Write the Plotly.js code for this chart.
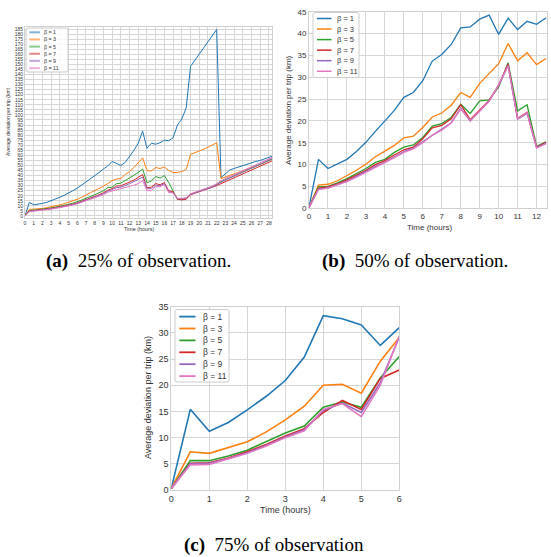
<!DOCTYPE html>
<html><head><meta charset="utf-8">
<script src="https://cdn.plot.ly/plotly-3.0.1.min.js"></script>
<style>html,body{margin:0;padding:0;background:#fff}#chart{width:551px;height:557px}</style>
</head><body><div id="chart"></div>
<script>
const betaNames = ['β = 1','β = 3','β = 5','β = 7','β = 9','β = 11'];
const colors = ['#1f77b4','#ff7f0e','#2ca02c','#d62728','#9467bd','#e377c2'];

// (a) 25% of observation
const timeA = [0,0.5,1,1.5,2,2.5,3,3.5,4,4.5,5,5.5,6,6.5,7,7.5,8,8.5,9,9.5,10,10.5,11,11.5,12,12.5,13,13.5,14,14.5,
  15,15.5,16,16.5,17,17.5,18,18.5,19,19.5,20,20.5,21,21.5,22,22.5,23,23.5,24,24.5,25,25.5,26,26.5,27,27.5,28,28.5];
const a_b1 = [0,13.5, 11,11.5, 12.5,13.5, 15,16.5, 18.5,20.5, 22.5,25, 27.5,30.5, 33.5,36.5, 40,43, 46.5,49.5,
  54,52, 50,53, 58.5,65, 72,84, 67,72, 71,72.5, 75,74.5, 77.5,90, 96,107, 148,154, 160,166, 172,178, 184.5,38,
  42,45.5, 47,48.5, 49.5,51, 52.5,54, 55,56.5, 58,59.5];
const a_b3 = [0,6.5, 6.8,7, 7.5,8.2, 9,10, 11,12.2, 13.5,15, 16.5,18.5, 21,23, 25,27, 29.5,32,
  35,36.5, 37,41, 44,48, 52.5,57.5, 45,44.5, 48,47, 48.5,45, 43,43, 44,46, 61,62.5, 64,66, 68,70, 72.5,37,
  38.5,40, 41.5,43, 44.5,46, 48,49.5, 51,53, 55,57];
const a_b5 = [0,5.5, 5.8,6.2, 6.5,7.2, 8,8.8, 9.5,10.5, 11.5,12.7, 14,15.7, 17.5,19, 21,23, 25,28,
  28.5,32, 32.5,35, 37.5,40, 43,46.5, 33,34.5, 39,37.5, 40,33, 24,16.5, 16,17, 21.5,23, 24.5,26, 27.5,29, 31,34,
  36,37.9, 39.8,41.7, 43.6,45.5, 47.3,49.2, 51.1,53, 54.9,56.8];
const a_b7 = [0,5, 5.3,5.7, 6,6.7, 7.5,8.2, 9,9.7, 10.5,11.7, 13,14.5, 16,17.7, 19.5,21, 23,25.5,
  27,29.5, 30,31.5, 33.5,35.5, 38,41, 28,28.5, 32,31, 33,25, 24,16.5, 16,16.5, 21,22.5, 23.5,25, 26.5,28, 30,32,
  33.9,35.8, 37.8,39.7, 41.6,43.5, 45.5,47.4, 49.3,51.3, 53.2,55.1];
const a_b9 = [0,4.8, 5.1,5.5, 5.8,6.4, 7.1,7.8, 8.6,9.3, 10.1,11.2, 12.5,14, 15.5,17, 18.8,20.3, 22,24.5,
  26,28, 28.5,30, 32,34, 36,38.5, 27,27, 30.5,30, 32,24, 23,17, 17,17.5, 21.5,23, 24,25.5, 27,28.5, 31,33.5,
  35.5,37.5, 39.5,41.5, 43.5,45.5, 47.4,49.4, 51.4,53.4, 55.3,57.3];
const a_b11 = [0,4.5, 4.8,5.2, 5.5,6.1, 6.8,7.5, 8.2,9, 9.8,10.8, 12,13.5, 15,16.5, 18,19.5, 21,23.5,
  25,26, 27,28, 29,30.5, 32,35, 25,25, 29,29, 31,23, 23,17.5, 17.5,18, 22,23.5, 25,26.5, 28,29.5, 32,35,
  37,38.9, 40.9,42.9, 44.8,46.8, 48.8,50.7, 52.7,54.6, 56.6,58.5];

// (b) 50% of observation
const timeB = [0,0.5,1,1.5,2,2.5,3,3.5,4,4.5,5,5.5,6,6.5,7,7.5,8,8.5,9,9.5,10,10.5,11,11.5,12,12.5];
const b_b1 = [0.2,11.2,9.1,10.1,11.2,13,15.1,17.6,20,22.4,25.4,26.5,29.2,33.7,35.2,37.5,41.3,41.5,43.3,44.2,39.8,43.5,40.9,42.8,42.1,43.6];
const b_b3 = [0.2,5.3,5.5,6.3,7.5,8.7,10.1,11.8,13.1,14.4,16.1,16.5,18.5,20.9,21.8,23.6,26.5,25.4,28.6,30.9,33.1,37.7,33.8,35.6,32.9,34.3];
const b_b5 = [0.2,4.9,5.0,5.8,6.8,7.9,9.1,10.5,11.2,12.8,14.0,14.5,16.2,18.8,19.4,20.8,23.8,21.7,24.6,24.8,27.8,33.3,22.3,23.7,14.2,15.2];
const b_b7 = [0.2,4.6,4.9,5.6,6.5,7.6,8.7,10.0,10.9,12.2,13.4,14.0,15.9,18.4,19.0,20.5,23.7,20.3,22.5,24.7,28.2,33.0,20.6,22.0,14.0,15.1];
const b_b9 = [0.2,4.4,4.7,5.4,6.2,7.3,8.4,9.6,10.5,11.8,13.0,13.8,15.2,16.8,18.0,19.6,22.9,20.0,22.3,24.6,28.1,32.7,20.4,21.7,13.9,14.9];
const b_b11 = [0.2,4.3,4.6,5.3,6.1,7.1,8.2,9.4,10.4,11.6,12.8,13.6,15.0,16.7,17.9,19.5,22.7,20.1,22.2,24.5,28.3,32.6,20.5,21.9,13.8,14.8];

// (c) 75% of observation
const timeC = [0,0.5,1,1.5,2,2.5,3,3.5,4,4.5,5,5.5,6];
const c_b1 = [0.3,15.4,11.2,12.9,15.3,17.9,20.9,25.4,33.3,32.7,31.5,27.6,31.0];
const c_b3 = [0.3,7.3,7.0,8.1,9.2,11.1,13.4,16.0,20.0,20.2,18.5,24.6,29.1];
const c_b5 = [0.3,5.6,5.6,6.5,7.6,9.2,10.9,12.2,15.8,16.8,15.8,21.4,25.5];
const c_b7 = [0.3,5.1,5.2,6.1,7.3,8.7,10.3,11.7,14.8,17.1,15.4,21.3,22.9];
const c_b9 = [0.3,5.0,5.1,6.0,7.1,8.5,10.1,11.5,15.2,16.6,14.8,20.5,29.2];
const c_b11 = [0.3,4.8,4.9,5.9,7.0,8.4,10.0,11.3,15.4,16.5,14.0,20.0,29.4];

const W = 551, H = 557;
const px = x => x / W, py = y => 1 - y / H;
const FONT = 'Liberation Sans, Arial, sans-serif';
const TXT = '#333333';

const panels = [
  {xa:'x', ya:'y', t:timeA, ys:[a_b1,a_b3,a_b5,a_b7,a_b9,a_b11], lw:1},
  {xa:'x2', ya:'y2', t:timeB, ys:[b_b1,b_b3,b_b5,b_b7,b_b9,b_b11], lw:1.3},
  {xa:'x3', ya:'y3', t:timeC, ys:[c_b1,c_b3,c_b5,c_b7,c_b9,c_b11], lw:1.6}
];
const traces = [];
panels.forEach(p => {
  p.ys.forEach((vals, i) => {
    traces.push({type:'scatter', mode:'lines', x:p.t, y:vals, name:betaNames[i],
      xaxis:p.xa, yaxis:p.ya, showlegend:false, line:{color:colors[i], width:p.lw}});
  });
});

function axis(domain, range, dtick, fsize) {
  return {domain, range, dtick, tick0:0, showgrid:true, gridcolor:'#d6d6d6', gridwidth:1,
    zeroline:false, showline:true, linecolor:'#d0d0d0', linewidth:1, mirror:true, ticks:'',
    tickfont:{size:fsize, color:TXT, family:FONT}, fixedrange:true};
}

const layout = {
  width:W, height:H, margin:{l:0,r:0,t:0,b:0}, paper_bgcolor:'#fff', plot_bgcolor:'#fff',
  showlegend:false, font:{family:FONT, color:TXT},
  xaxis: Object.assign(axis([px(25),px(272)],[0,28.35],1,5),{anchor:'y'}),
  yaxis: Object.assign(axis([py(218),py(27)],[-2,187],5,5),{anchor:'x'}),
  xaxis2: Object.assign(axis([px(309),px(547)],[0,12.55],1,8),{anchor:'y2'}),
  yaxis2: Object.assign(axis([py(208.3),py(11.7)],[0,45],5,8),{anchor:'x2'}),
  xaxis3: Object.assign(axis([px(171.3),px(399.3)],[0,6],1,9),{anchor:'y3'}),
  yaxis3: Object.assign(axis([py(490),py(306.7)],[0,35],5,9),{anchor:'x3'}),
  shapes:[], annotations:[]
};

function note(x, y, text, size, extra) {
  layout.annotations.push(Object.assign({xref:'paper', yref:'paper', x:px(x), y:py(y), text,
    showarrow:false, font:{size, color:TXT, family:FONT}, xanchor:'center', yanchor:'middle'}, extra||{}));
}
// axis titles
const ytitle = 'Average deviation per trip (km)';
note(8, 122, ytitle, 5, {textangle:-90});
note(139, 229, 'Time (hours)', 5.4);
note(288, 110, ytitle, 8, {textangle:-90});
note(429, 227, 'Time (hours)', 8);
note(148, 398, ytitle, 9, {textangle:-90});
note(285, 510, 'Time (hours)', 9);

// legends
function roundRect(x0, y0, x1, y1, r) {
  const X = v => px(v), Y = v => py(v);
  return `M ${X(x0+r)},${Y(y0)} L ${X(x1-r)},${Y(y0)} Q ${X(x1)},${Y(y0)} ${X(x1)},${Y(y0+r)} ` +
    `L ${X(x1)},${Y(y1-r)} Q ${X(x1)},${Y(y1)} ${X(x1-r)},${Y(y1)} L ${X(x0+r)},${Y(y1)} ` +
    `Q ${X(x0)},${Y(y1)} ${X(x0)},${Y(y1-r)} L ${X(x0)},${Y(y0+r)} Q ${X(x0)},${Y(y0)} ${X(x0+r)},${Y(y0)} Z`;
}
function legend(box, sx0, sx1, tx, y0, dy, fsize, lw, op) {
  layout.shapes.push({type:'path', xref:'paper', yref:'paper', path:roundRect(box[0],box[1],box[2],box[3],2),
    fillcolor:'rgba(255,255,255,0.85)', line:{color:'#cccccc', width:1}});
  betaNames.forEach((n, i) => {
    const y = y0 + i*dy;
    layout.shapes.push({type:'line', xref:'paper', yref:'paper', x0:px(sx0), x1:px(sx1), y0:py(y), y1:py(y),
      line:{color:colors[i], width:lw}, opacity:op});
    note(tx, y, n, fsize, {xanchor:'left'});
  });
}
legend([26,28,68,72], 29.3, 40, 42.3, 32.3, 7.15, 5.3, 2, 0.55);
legend([313,12.5,359,77.5], 317, 331.5, 335.3, 18.5, 10.55, 7.5, 1.5, 1);
legend([175,309.5,229,382], 179.3, 195.5, 201.3, 316.6, 11.9, 8.5, 1.8, 1);

// captions
const SERIF = 'Liberation Serif, Times New Roman, serif';
function caption(x, y, label, text) {
  layout.annotations.push({xref:'paper', yref:'paper', x:px(x), y:py(y), showarrow:false,
    text:'<b>'+label+'</b>\u00a0 '+text, font:{size:19, color:'#000', family:SERIF},
    xanchor:'center', yanchor:'middle'});
}
caption(138, 261, '(a)', '25% of observation.');
caption(415, 261, '(b)', '50% of observation.');
caption(274, 545, '(c)', '75% of observation');

Plotly.newPlot('chart', traces, layout, {staticPlot:true, displayModeBar:false});
</script></body></html>
